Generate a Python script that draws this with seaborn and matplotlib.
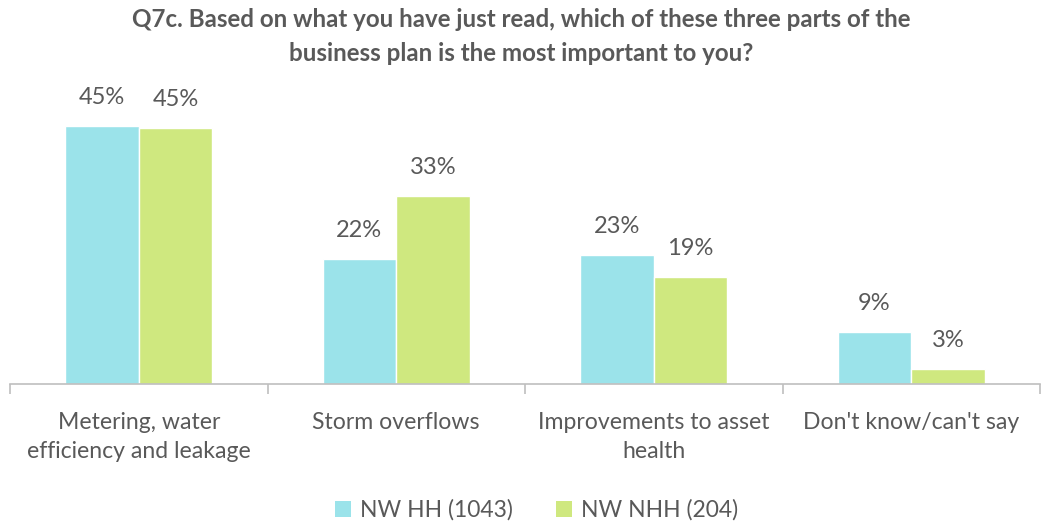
import matplotlib
matplotlib.use("Agg")
import matplotlib.pyplot as plt
import seaborn as sns
import pandas as pd
import numpy as np
from matplotlib.ticker import FixedLocator
from matplotlib.patches import Patch

categories = ["Metering, water\nefficiency and leakage", "Storm overflows",
              "Improvements to asset\nhealth", "Don't know/can't say"]
series = ["NW HH (1043)", "NW NHH (204)"]
hh_values = [45.4, 22.0, 22.7, 9.1]
nhh_values = [45.0, 33.0, 18.8, 2.6]
hh_labels = ["45%", "22%", "23%", "9%"]
nhh_labels = ["45%", "33%", "19%", "3%"]
colors = ["#9be3ea", "#cfe87f"]
title = "Q7c. Based on what you have just read, which of these three parts of the\nbusiness plan is the most important to you?"

df = pd.DataFrame({
    "category": categories * 2,
    "series": [series[0]] * 4 + [series[1]] * 4,
    "value": hh_values + nhh_values,
})

sns.set_theme(style="white")
plt.rcParams['font.family'] = ['Lato', 'DejaVu Sans']
text_color = "#595959"

fig = plt.figure(figsize=(10.42, 5.23), dpi=100)
ax = fig.add_axes([10/1042, 1 - 384/523, 1030/1042, (384 - 99.5)/523])

sns.barplot(data=df, x="category", y="value", hue="series", palette=colors,
            width=0.572, saturation=1, ax=ax, legend=False)

ax.set_ylim(0, 50)
ax.set_xlim(-0.5, 3.5)
ax.set_xlabel("")
ax.set_ylabel("")
ax.set_yticks([])
for s in ["top", "right", "left"]:
    ax.spines[s].set_visible(False)
ax.spines["bottom"].set_color("#bfbfbf")
ax.spines["bottom"].set_linewidth(1.2)

ax.tick_params(axis="x", which="major", length=0, labelsize=16.6, labelcolor=text_color, pad=20)
ax.xaxis.set_minor_locator(FixedLocator([-0.5, 0.5, 1.5, 2.5, 3.5]))
ax.tick_params(axis="x", which="minor", length=7, width=1.2, color="#bfbfbf", direction="out", bottom=True)
for lab in ax.get_xticklabels():
    lab.set_linespacing(1.5)

for cont, labs in zip(ax.containers, [hh_labels, nhh_labels]):
    ax.bar_label(cont, labels=labs, padding=13, fontsize=17, color=text_color)

fig.suptitle(title, fontsize=17.4, fontweight="bold", color=text_color, y=0.984, linespacing=1.55)

handles = [Patch(facecolor=c, edgecolor="none") for c in colors]
fig.legend(handles, series, loc="lower center", bbox_to_anchor=(0.515, -0.035), ncol=2,
           frameon=False, fontsize=16.5, labelcolor=text_color, handlelength=0.7,
           handleheight=0.7, handletextpad=0.4, columnspacing=1.9)

fig.savefig("out.png", dpi=100)
